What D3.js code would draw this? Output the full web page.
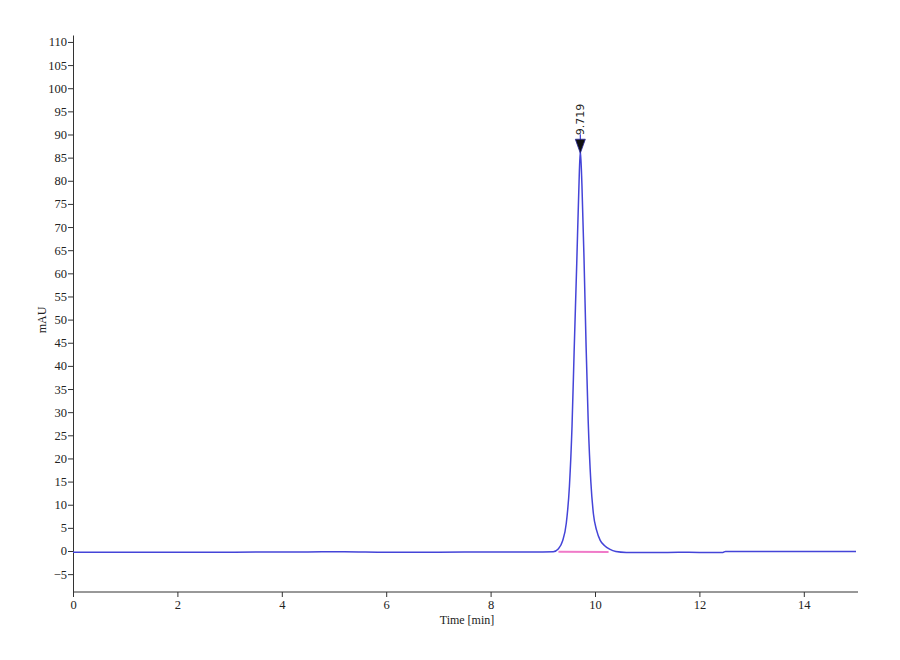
<!DOCTYPE html>
<html>
<head>
<meta charset="utf-8">
<script src="https://cdn.jsdelivr.net/npm/d3@7"></script>
<style>
  body { margin: 0; background: #fff; }
  svg { display: block; font-family: "Liberation Serif", "DejaVu Serif", serif; }
  .axis path, .axis line { stroke: #333; }
  .axis text { font-family: "Liberation Serif", serif; font-size: 12.5px; fill: #222; }
</style>
</head>
<body>
<svg></svg>
<script>
// chromatogram
const times = [0, 1.5, 3, 4.5, 5.2, 6, 7, 8, 8.8, 9.2, 9.30, 9.38, 9.45, 9.51, 9.56, 9.60, 9.65, 9.69, 9.719,
               9.75, 9.79, 9.83, 9.87, 9.92, 9.97, 10.03, 10.10, 10.18, 10.28, 10.4, 10.6, 11, 11.6, 12.0, 12.45, 12.5, 13.5, 15]
const mAU = [-0.25, -0.25, -0.25, -0.2, -0.15, -0.25, -0.25, -0.2, -0.2, -0.15, 0.5, 2.2, 6.0, 14, 27, 43, 62, 78, 86.6,
             79, 63, 44, 28, 15, 8, 4.5, 2.3, 1.2, 0.4, -0.1, -0.3, -0.35, -0.25, -0.3, -0.3, -0.1, -0.1, -0.1]

const peakTime = 9.719
const peakHeight = 86.6
const peakLabel = '9.719'
const baselineFrom = [9.30, -0.15]
const baselineTo = [10.26, -0.2]

const xTicks = [0, 2, 4, 6, 8, 10, 12, 14]
const yTicks = d3.range(-5, 111, 5)

const width = 900
const height = 660

let svg = d3.select('svg').attr('width', width).attr('height', height)

let xScale = d3.scaleLinear().domain([0, 15]).range([73, 856])
let yScale = d3.scaleLinear().domain([-8.86, 111.5]).range([592, 35])

function drawAxes() {
    let xAxis = d3.axisBottom(xScale).tickValues(xTicks).tickSize(5).tickSizeOuter(0).tickPadding(3)
    let yAxis = d3.axisLeft(yScale).tickValues(yTicks).tickSize(5).tickSizeOuter(0).tickPadding(1)

    svg.append('g')
        .attr('class', 'axis')
        .attr('transform', 'translate(0,' + yScale.range()[0] + ')')
        .call(xAxis)
        .call(g => g.select('.domain').attr('d', 'M73,0H858'))

    svg.append('g')
        .attr('class', 'axis')
        .attr('transform', 'translate(' + xScale.range()[0] + ',0)')
        .call(yAxis)

    svg.append('text')
        .attr('x', 467).attr('y', 624)
        .attr('text-anchor', 'middle')
        .attr('font-size', 12)
        .attr('fill', '#222')
        .text('Time [min]')

    svg.append('text')
        .attr('transform', 'translate(46,320) rotate(-90)')
        .attr('text-anchor', 'middle')
        .attr('font-size', 12)
        .attr('fill', '#222')
        .text('mAU')
}

function drawTrace() {
    let data = times.map((t, i) => [t, mAU[i]])

    svg.append('line')
        .attr('x1', xScale(baselineFrom[0])).attr('y1', yScale(baselineFrom[1]))
        .attr('x2', xScale(baselineTo[0])).attr('y2', yScale(baselineTo[1]))
        .attr('stroke', '#f07ac8')
        .attr('stroke-width', 2)

    let line = d3.line()
        .x(d => xScale(d[0]))
        .y(d => yScale(d[1]))
        .curve(d3.curveMonotoneX)

    svg.append('path')
        .datum(data)
        .attr('d', line)
        .attr('fill', 'none')
        .attr('stroke', '#4444d8')
        .attr('stroke-width', 1.5)
}

function drawPeakMark() {
    let px = xScale(peakTime)
    let py = yScale(peakHeight)

    // small stem + arrow head
    svg.append('line')
        .attr('x1', px).attr('x2', px)
        .attr('y1', py - 16).attr('y2', py - 10)
        .attr('stroke', '#3b3bd6').attr('stroke-width', 1.2)

    svg.append('path')
        .attr('d', `M${px - 5},${py - 11}L${px + 5},${py - 11}L${px},${py + 3}Z`)
        .attr('fill', '#111')
        .attr('stroke', '#2a2a9a')
        .attr('stroke-width', 0.8)

    svg.append('text')
        .attr('transform', `translate(${px + 4},${py - 15}) rotate(-90)`)
        .attr('font-family', 'DejaVu Sans, sans-serif')
        .attr('font-size', 11)
        .attr('fill', '#222')
        .text(peakLabel)
}

drawAxes()
drawTrace()
drawPeakMark()
</script>
</body>
</html>
